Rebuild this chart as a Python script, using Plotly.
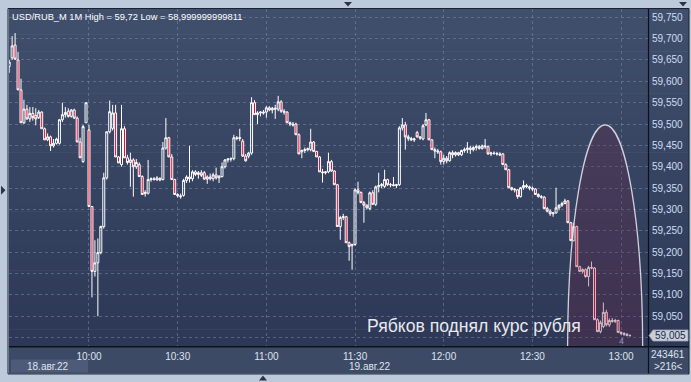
import plotly.graph_objects as go

# ---------------- data ----------------
opens = [59.635, 59.655, 59.685, 59.650, 59.580, 59.503, 59.535, 59.512, 59.525, 59.520,
         59.515, 59.528, 59.489, 59.463, 59.470, 59.449, 59.455, 59.455, 59.510, 59.522,
         59.530, 59.518, 59.533, 59.514, 59.458, 59.412, 59.503, 59.486, 59.307, 59.155,
         59.175, 59.199, 59.260, 59.374, 59.482, 59.490, 59.526, 59.423, 59.405, 59.489,
         59.421, 59.410, 59.416, 59.400, 59.405, 59.377, 59.337, 59.338, 59.370, 59.372,
         59.374, 59.369, 59.370, 59.444, 59.468, 59.423, 59.370, 59.335, 59.332, 59.333,
         59.368, 59.376, 59.372, 59.388, 59.382, 59.386, 59.386, 59.371, 59.376, 59.372,
         59.381, 59.374, 59.377, 59.400, 59.416, 59.418, 59.419, 59.468, 59.466, 59.460,
         59.425, 59.425, 59.432, 59.550, 59.522, 59.526, 59.528, 59.528, 59.538, 59.533,
         59.537, 59.535, 59.552, 59.530, 59.528, 59.503, 59.500, 59.500, 59.475, 59.435,
         59.438, 59.440, 59.440, 59.458, 59.436, 59.423, 59.388, 59.386, 59.388, 59.412,
         59.390, 59.358, 59.260, 59.281, 59.283, 59.222, 59.215, 59.218, 59.346, 59.340,
         59.316, 59.310, 59.302, 59.339, 59.312, 59.353, 59.356, 59.354, 59.370, 59.358,
         59.358, 59.356, 59.358, 59.491, 59.498, 59.470, 59.466, 59.463, 59.480, 59.470,
         59.465, 59.498, 59.510, 59.463, 59.440, 59.437, 59.435, 59.412, 59.420, 59.414,
         59.433, 59.428, 59.433, 59.428, 59.438, 59.440, 59.444, 59.440, 59.445, 59.447,
         59.443, 59.449, 59.447, 59.430, 59.432, 59.431, 59.430, 59.430, 59.405, 59.393,
         59.351, 59.347, 59.346, 59.330, 59.351, 59.356, 59.353, 59.350, 59.348, 59.335,
         59.330, 59.329, 59.302, 59.296, 59.290, 59.292, 59.304, 59.310, 59.314, 59.320,
         59.269, 59.227, 59.260, 59.166, 59.155, 59.159, 59.143, 59.164, 59.163, 59.042,
         59.014, 59.026, 59.059, 59.030, 59.040, 59.038, 59.040, 59.012, 59.010, 59.008,
         59.005]
highs = [59.650, 59.706, 59.713, 59.669, 59.606, 59.557, 59.545, 59.540, 59.540, 59.537,
         59.533, 59.530, 59.492, 59.478, 59.473, 59.465, 59.468, 59.512, 59.550, 59.540,
         59.537, 59.535, 59.536, 59.518, 59.468, 59.498, 59.550, 59.498, 59.307, 59.228,
         59.232, 59.262, 59.386, 59.482, 59.555, 59.545, 59.545, 59.425, 59.545, 59.495,
         59.428, 59.433, 59.420, 59.418, 59.410, 59.380, 59.345, 59.416, 59.375, 59.376,
         59.378, 59.375, 59.458, 59.514, 59.470, 59.430, 59.372, 59.338, 59.337, 59.372,
         59.380, 59.449, 59.392, 59.392, 59.390, 59.392, 59.390, 59.380, 59.384, 59.386,
         59.398, 59.380, 59.410, 59.418, 59.420, 59.422, 59.475, 59.472, 59.489, 59.465,
         59.430, 59.435, 59.563, 59.556, 59.530, 59.530, 59.533, 59.542, 59.542, 59.540,
         59.545, 59.566, 59.556, 59.535, 59.530, 59.506, 59.505, 59.503, 59.478, 59.440,
         59.445, 59.445, 59.489, 59.460, 59.437, 59.425, 59.395, 59.390, 59.433, 59.416,
         59.392, 59.360, 59.285, 59.290, 59.285, 59.225, 59.220, 59.350, 59.365, 59.342,
         59.320, 59.312, 59.342, 59.345, 59.356, 59.386, 59.362, 59.393, 59.372, 59.362,
         59.376, 59.360, 59.495, 59.514, 59.505, 59.475, 59.470, 59.468, 59.484, 59.472,
         59.500, 59.526, 59.512, 59.465, 59.445, 59.442, 59.438, 59.428, 59.425, 59.436,
         59.438, 59.436, 59.435, 59.440, 59.445, 59.458, 59.449, 59.448, 59.452, 59.451,
         59.452, 59.465, 59.450, 59.435, 59.436, 59.435, 59.434, 59.432, 59.408, 59.395,
         59.353, 59.350, 59.348, 59.353, 59.368, 59.360, 59.356, 59.354, 59.350, 59.338,
         59.334, 59.331, 59.306, 59.300, 59.294, 59.351, 59.312, 59.318, 59.325, 59.322,
         59.271, 59.269, 59.262, 59.168, 59.162, 59.162, 59.168, 59.178, 59.165, 59.045,
         59.040, 59.082, 59.065, 59.045, 59.046, 59.044, 59.042, 59.015, 59.012, 59.010,
         59.007]
lows = [59.620, 59.650, 59.650, 59.580, 59.503, 59.500, 59.510, 59.505, 59.508, 59.497,
        59.512, 59.489, 59.463, 59.460, 59.437, 59.445, 59.452, 59.452, 59.505, 59.515,
        59.515, 59.515, 59.512, 59.458, 59.421, 59.409, 59.503, 59.307, 59.094, 59.143,
        59.050, 59.195, 59.255, 59.370, 59.478, 59.485, 59.423, 59.409, 59.400, 59.421,
        59.405, 59.353, 59.330, 59.395, 59.377, 59.335, 59.330, 59.335, 59.365, 59.368,
        59.368, 59.366, 59.368, 59.440, 59.423, 59.370, 59.335, 59.328, 59.325, 59.330,
        59.362, 59.363, 59.366, 59.378, 59.372, 59.376, 59.370, 59.360, 59.368, 59.366,
        59.370, 59.362, 59.375, 59.396, 59.410, 59.412, 59.415, 59.462, 59.460, 59.423,
        59.412, 59.420, 59.428, 59.522, 59.500, 59.518, 59.522, 59.515, 59.530, 59.525,
        59.512, 59.530, 59.526, 59.522, 59.503, 59.495, 59.494, 59.475, 59.430, 59.420,
        59.432, 59.436, 59.436, 59.435, 59.423, 59.388, 59.363, 59.382, 59.385, 59.388,
        59.358, 59.260, 59.229, 59.275, 59.222, 59.180, 59.159, 59.215, 59.335, 59.316,
        59.269, 59.300, 59.298, 59.311, 59.308, 59.340, 59.350, 59.350, 59.355, 59.352,
        59.354, 59.350, 59.355, 59.485, 59.440, 59.460, 59.460, 59.458, 59.468, 59.463,
        59.462, 59.495, 59.463, 59.440, 59.420, 59.430, 59.405, 59.405, 59.408, 59.412,
        59.420, 59.424, 59.425, 59.425, 59.433, 59.432, 59.430, 59.436, 59.438, 59.440,
        59.440, 59.442, 59.428, 59.425, 59.428, 59.426, 59.425, 59.405, 59.393, 59.351,
        59.344, 59.340, 59.325, 59.328, 59.346, 59.350, 59.345, 59.343, 59.335, 59.328,
        59.325, 59.302, 59.293, 59.285, 59.283, 59.290, 59.298, 59.306, 59.312, 59.269,
        59.227, 59.225, 59.166, 59.155, 59.150, 59.140, 59.120, 59.160, 59.042, 59.014,
        59.010, 59.022, 59.026, 59.025, 59.035, 59.034, 59.012, 59.006, 59.004, 59.003,
        59.002]
closes = [59.645, 59.683, 59.652, 59.580, 59.503, 59.535, 59.512, 59.525, 59.515, 59.512,
          59.528, 59.489, 59.463, 59.470, 59.449, 59.455, 59.465, 59.510, 59.522, 59.527,
          59.518, 59.533, 59.514, 59.458, 59.421, 59.494, 59.550, 59.307, 59.155, 59.175,
          59.199, 59.260, 59.374, 59.482, 59.529, 59.526, 59.423, 59.409, 59.489, 59.421,
          59.410, 59.416, 59.400, 59.410, 59.377, 59.335, 59.340, 59.370, 59.372, 59.370,
          59.369, 59.373, 59.444, 59.468, 59.423, 59.370, 59.335, 59.332, 59.330, 59.368,
          59.376, 59.372, 59.388, 59.382, 59.386, 59.380, 59.371, 59.376, 59.372, 59.381,
          59.374, 59.378, 59.400, 59.416, 59.418, 59.419, 59.468, 59.466, 59.468, 59.425,
          59.414, 59.432, 59.550, 59.522, 59.526, 59.528, 59.526, 59.538, 59.533, 59.537,
          59.535, 59.552, 59.530, 59.528, 59.503, 59.500, 59.498, 59.475, 59.430, 59.438,
          59.440, 59.442, 59.458, 59.436, 59.423, 59.388, 59.386, 59.388, 59.412, 59.390,
          59.358, 59.260, 59.281, 59.283, 59.222, 59.213, 59.218, 59.346, 59.340, 59.316,
          59.310, 59.304, 59.339, 59.312, 59.353, 59.356, 59.358, 59.370, 59.358, 59.358,
          59.356, 59.358, 59.491, 59.498, 59.470, 59.466, 59.463, 59.465, 59.470, 59.467,
          59.496, 59.510, 59.463, 59.440, 59.437, 59.435, 59.412, 59.420, 59.414, 59.433,
          59.428, 59.433, 59.428, 59.438, 59.440, 59.444, 59.440, 59.445, 59.447, 59.443,
          59.449, 59.447, 59.430, 59.432, 59.431, 59.430, 59.428, 59.405, 59.393, 59.351,
          59.347, 59.346, 59.330, 59.351, 59.356, 59.353, 59.350, 59.348, 59.335, 59.330,
          59.329, 59.302, 59.296, 59.290, 59.292, 59.304, 59.310, 59.314, 59.320, 59.269,
          59.227, 59.260, 59.166, 59.155, 59.159, 59.143, 59.164, 59.163, 59.042, 59.014,
          59.035, 59.059, 59.030, 59.040, 59.038, 59.040, 59.012, 59.010, 59.008, 59.005,
          59.005]

x_tick_pos = [27, 57, 87, 117, 147, 177, 207]
x_tick_text = ["10:00", "10:30", "11:00", "11:30", "12:00", "12:30", "13:00"]
y_tick_vals = [59.00, 59.05, 59.10, 59.15, 59.20, 59.25, 59.30, 59.35,
               59.40, 59.45, 59.50, 59.55, 59.60, 59.65, 59.70, 59.75]
# the 59,000 label is hidden behind the last-price tag in the original
y_tick_text = ["", "59,050", "59,100", "59,150", "59,200", "59,250", "59,300", "59,350",
               "59,400", "59,450", "59,500", "59,550", "59,600", "59,650", "59,700", "59,750"]
title_text = "USD/RUB_M 1M High = 59,72 Low = 58,999999999811"
note_text = "Рябков поднял курс рубля"
last_price_text = "59,005"
date_labels = ["18.авг.22", "19.авг.22"]
corner_labels = ["243461", ">216<"]

# ---------------- figure ----------------
W, H = 691, 382
L, R, T, B = 9, 648, 9, 346.5
FONT = "Liberation Sans, Arial"


def PX(x):
    return (x - L) / (R - L)


def PY(y):
    return (B - y) / (B - T)


idx = list(range(len(closes)))

fig = go.Figure()
fig.add_trace(go.Candlestick(
    x=idx, open=opens, high=highs, low=lows, close=closes,
    increasing=dict(line=dict(color="#ffffff", width=1), fillcolor="rgba(0,0,0,0)"),
    decreasing=dict(line=dict(color="#ffffff", width=1), fillcolor="#e3002b"),
    whiskerwidth=0, hoverinfo="skip", showlegend=False,
))

shapes = []


def lerp(c1, c2, t):
    return "rgb(%d,%d,%d)" % tuple(round(a + (b - a) * t) for a, b in zip(c1, c2))


top_c, bot_c = (64, 79, 108), (44, 56, 86)
N = 40
for i in range(N):
    y0 = T + i * (B - T) / N
    y1 = T + (i + 1) * (B - T) / N + 0.6
    col = lerp(top_c, bot_c, (i + 0.5) / N)
    shapes.append(dict(type="rect", xref="paper", yref="paper", layer="below",
                       x0=PX(L), x1=PX(R), y0=PY(y1), y1=PY(y0),
                       fillcolor=col, line=dict(width=0)))
    shapes.append(dict(type="rect", xref="paper", yref="paper", layer="below",
                       x0=PX(R), x1=PX(689), y0=PY(y1), y1=PY(y0),
                       fillcolor=col, line=dict(width=0)))

# bottom time panel
shapes.append(dict(type="rect", xref="paper", yref="paper", layer="below",
                   x0=PX(L), x1=PX(689), y0=PY(374), y1=PY(B),
                   fillcolor="#3d4a66", line=dict(width=0)))
# left date box
shapes.append(dict(type="rect", xref="paper", yref="paper", layer="below",
                   x0=PX(11), x1=PX(88), y0=PY(373), y1=PY(360),
                   fillcolor="#4d5b78", line=dict(width=0)))

# ellipse highlight
shapes.append(dict(type="circle", xref="x", yref="y", layer="above",
                   x0=188.9, x1=214.3, y0=58.446, y1=59.498,
                   fillcolor="rgba(105,38,68,0.30)",
                   line=dict(color="rgba(225,225,232,0.9)", width=1.3)))

# separators / border
shapes.append(dict(type="line", xref="paper", yref="paper", layer="above",
                   x0=PX(R + 0.5), x1=PX(R + 0.5), y0=PY(374), y1=PY(T),
                   line=dict(color="#0c1018", width=1.2)))
shapes.append(dict(type="line", xref="paper", yref="paper", layer="above",
                   x0=PX(L), x1=PX(689), y0=PY(B + 0.8), y1=PY(B + 0.8),
                   line=dict(color="#0c1018", width=1.6)))
shapes.append(dict(type="rect", xref="paper", yref="paper", layer="above",
                   x0=PX(8), x1=PX(689), y0=PY(374.5), y1=PY(8.5),
                   fillcolor="rgba(0,0,0,0)", line=dict(color="#1a2130", width=1)))

# last price tag
shapes.append(dict(type="path", xref="paper", yref="paper", layer="above",
                   path="M %f %f L %f %f L %f %f L %f %f L %f %f Z" % (
                       PX(649), PY(336), PX(653), PY(330.5), PX(688), PY(330.5),
                       PX(688), PY(341.5), PX(653), PY(341.5)),
                   fillcolor="#c9ced8", line=dict(color="#9aa3b3", width=0.8)))


def tri(pts, col="#2a3446"):
    p = "M " + " L ".join("%f %f" % (PX(a), PY(b)) for a, b in pts) + " Z"
    return dict(type="path", xref="paper", yref="paper", layer="above",
                path=p, fillcolor=col, line=dict(width=0))


shapes.append(tri([(344, 2), (352, 2), (348, 6.5)]))
shapes.append(tri([(679, 2), (687, 2), (683, 6.5)]))
shapes.append(tri([(1, 186), (1, 195), (5.5, 190.5)]))
shapes.append(tri([(259, 381), (267, 381), (263, 376)]))

annotations = [
    dict(text=title_text, xref="paper", yref="paper", x=PX(10), y=PY(17),
         xanchor="left", yanchor="middle", showarrow=False,
         font=dict(family=FONT, size=9.3, color="#ffffff")),
    dict(text=note_text, xref="paper", yref="paper", x=PX(365), y=PY(326),
         xanchor="left", yanchor="middle", showarrow=False,
         font=dict(family=FONT, size=17.6, color="#e8e8ee")),
    dict(text="4", xref="paper", yref="paper", x=PX(621), y=PY(341),
         xanchor="center", yanchor="middle", showarrow=False,
         font=dict(family=FONT, size=9, color="#8d97bb")),
    dict(text=last_price_text, xref="paper", yref="paper", x=PX(670), y=PY(336),
         xanchor="center", yanchor="middle", showarrow=False,
         font=dict(family=FONT, size=10, color="#1b2a4a")),
    dict(text=date_labels[0], xref="paper", yref="paper", x=PX(48), y=PY(367),
         xanchor="center", yanchor="middle", showarrow=False,
         font=dict(family=FONT, size=10, color="#dde4ee")),
    dict(text=date_labels[1], xref="paper", yref="paper", x=PX(370), y=PY(367),
         xanchor="center", yanchor="middle", showarrow=False,
         font=dict(family=FONT, size=10, color="#dde4ee")),
    dict(text=corner_labels[0], xref="paper", yref="paper", x=PX(668), y=PY(355),
         xanchor="center", yanchor="middle", showarrow=False,
         font=dict(family=FONT, size=10, color="#dde4ee")),
    dict(text=corner_labels[1], xref="paper", yref="paper", x=PX(668), y=PY(367),
         xanchor="center", yanchor="middle", showarrow=False,
         font=dict(family=FONT, size=10, color="#dde4ee")),
]

grid_col = "rgba(120,136,168,0.55)"
fig.update_layout(
    width=W, height=H,
    margin=dict(l=L, r=W - R, t=T, b=H - B),
    paper_bgcolor="#bccadb",
    plot_bgcolor="rgba(0,0,0,0)",
    separators=", ",
    showlegend=False,
    boxgap=0.05,
    shapes=shapes,
    annotations=annotations,
    xaxis=dict(
        range=[-0.06, 216.1], rangeslider=dict(visible=False),
        tickmode="array", tickvals=x_tick_pos, ticktext=x_tick_text,
        showgrid=True, gridcolor=grid_col, griddash="3px,3px", gridwidth=1,
        zeroline=False, showline=False, ticks="", ticklabelstandoff=3,
        tickfont=dict(family=FONT, size=10, color="#dde4ee"),
        fixedrange=True,
    ),
    yaxis=dict(
        range=[58.9803, 59.7694], side="right",
        tickmode="array", tickvals=y_tick_vals, ticktext=y_tick_text,
        showgrid=True, gridcolor=grid_col, griddash="3px,3px", gridwidth=1,
        zeroline=False, showline=False, ticks="", ticklabelstandoff=3,
        tickfont=dict(family=FONT, size=10, color="#cfdcf3"),
        fixedrange=True,
    ),
)

fig.write_html("out.html")
